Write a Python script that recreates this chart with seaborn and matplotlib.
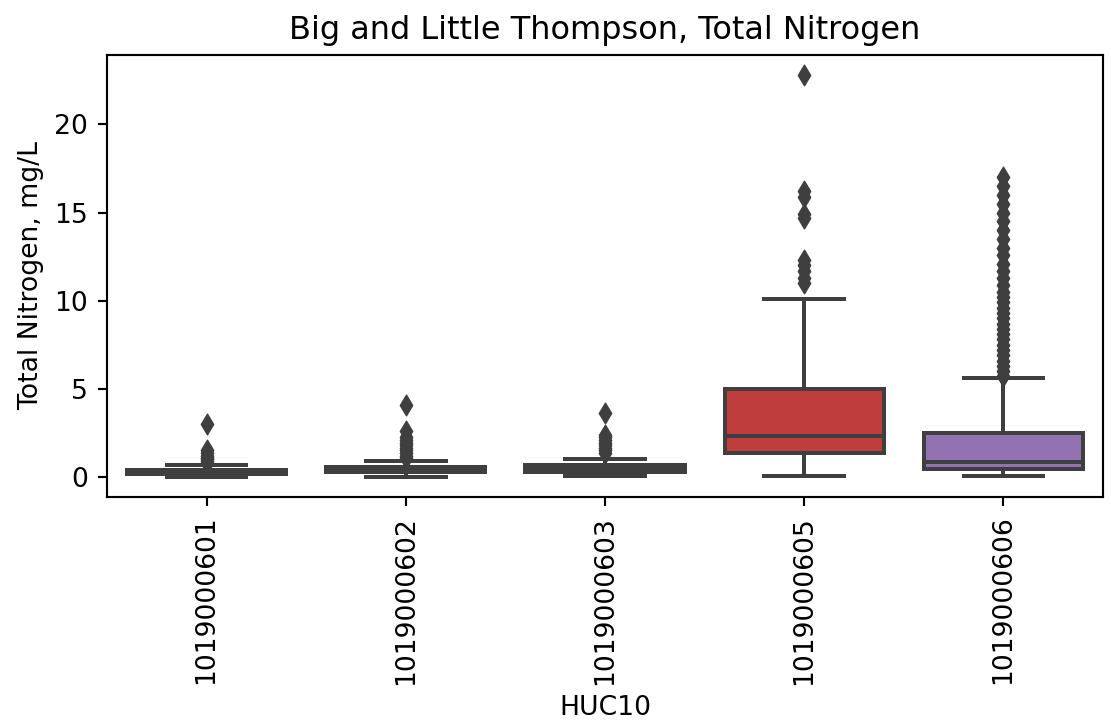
import numpy as np
import pandas as pd
import seaborn as sns
import matplotlib.pyplot as plt

huc_codes = ["1019000601", "1019000602", "1019000603", "1019000605", "1019000606"]

# five-number summary per HUC10: lower whisker, q1, median, q3, upper whisker
whisker_low = [0.0, 0.0, 0.05, 0.05, 0.05]
quart_1 = [0.15, 0.25, 0.3, 1.37, 0.42]
medians = [0.25, 0.4, 0.5, 2.33, 0.85]
quart_3 = [0.4, 0.55, 0.7, 5.0, 2.5]
whisker_high = [0.7, 0.9, 1.0, 10.08, 5.6]

# outliers
outliers_601 = [0.8, 0.9, 1.0, 1.1, 1.2, 1.35, 1.5, 3.0]
outliers_602 = [1.05, 1.2, 1.35, 1.5, 1.65, 1.8, 1.95, 2.1, 2.25, 2.6, 4.1]
outliers_603 = [1.35, 1.5, 1.65, 1.8, 1.95, 2.1, 2.25, 2.4, 3.6]
outliers_605 = [11.0, 11.3, 11.7, 12.0, 12.3, 14.7, 14.9, 15.9, 16.2, 22.8]
outliers_606 = [5.7, 6.0, 6.3, 6.6, 6.9, 7.2, 7.5, 7.8, 8.1, 8.4, 8.7, 9.0, 9.3,
                9.6, 9.9, 10.2, 10.5, 10.9, 11.3, 11.7, 12.1, 12.6, 13.0, 13.5,
                14.0, 14.5, 15.0, 15.5, 16.0, 16.5, 17.0]
outliers = [outliers_601, outliers_602, outliers_603, outliers_605, outliers_606]

box_rows = []
for i, code in enumerate(huc_codes):
    for v in (whisker_low[i], quart_1[i], medians[i], quart_3[i], whisker_high[i]):
        box_rows.append({"HUC10": code, "TN": v})
box_df = pd.DataFrame(box_rows)

out_rows = []
for code, vals in zip(huc_codes, outliers):
    for v in vals:
        out_rows.append({"HUC10": code, "TN": v})
out_df = pd.DataFrame(out_rows)

gray = "#3f3f3f"
dpi = 192

fig = plt.figure(figsize=(1111 / dpi, 723 / dpi), dpi=dpi)
ax = fig.add_subplot(111)
fig.subplots_adjust(left=0.0963, right=0.9928, top=0.924, bottom=0.3126)

sns.boxplot(data=box_df, x="HUC10", y="TN", hue="HUC10", order=huc_codes,
            hue_order=huc_codes, legend=False, whis=(0, 100), showfliers=False,
            linecolor=gray, linewidth=1.5, saturation=0.75, ax=ax)
sns.stripplot(data=out_df, x="HUC10", y="TN", order=huc_codes, jitter=False,
              marker="d", size=5.5, color=gray, edgecolor=gray, linewidth=0.5,
              zorder=3, ax=ax)

ax.set_title("Big and Little Thompson, Total Nitrogen")
ax.set_xlabel("HUC10")
ax.set_ylabel("Total Nitrogen, mg/L")
ax.set_yticks([0, 5, 10, 15, 20])
plt.setp(ax.get_xticklabels(), rotation=90)

fig.savefig("out.png", dpi=dpi)
